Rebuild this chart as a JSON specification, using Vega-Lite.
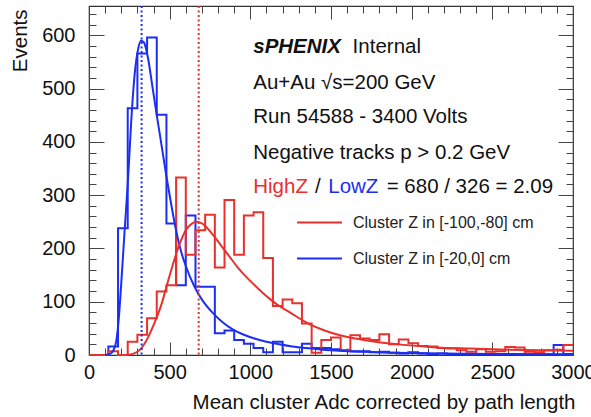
{
  "$schema": "https://vega.github.io/schema/vega-lite/v6.json",
  "width": 484,
  "height": 349,
  "autosize": {"type": "none"},
  "padding": {"left": 89, "top": 6, "right": 18, "bottom": 62},
  "background": "white",
  "config": {
    "font": "Liberation Sans",
    "view": {"stroke": "#333", "strokeWidth": 1.2},
    "axis": {"grid": false, "domain": false, "tickColor": "#444", "tickWidth": 1, "labelColor": "#111", "titleColor": "#111", "labelFont": "Liberation Sans", "titleFont": "Liberation Sans", "titleFontWeight": "normal"}
  },
  "datasets": {
    "hist": [
      {"series": "Cluster Z in [-20,0] cm", "x": 0, "y": 0},
      {"series": "Cluster Z in [-20,0] cm", "x": 60, "y": 0},
      {"series": "Cluster Z in [-20,0] cm", "x": 120, "y": 16},
      {"series": "Cluster Z in [-20,0] cm", "x": 180, "y": 238},
      {"series": "Cluster Z in [-20,0] cm", "x": 240, "y": 463},
      {"series": "Cluster Z in [-20,0] cm", "x": 300, "y": 566},
      {"series": "Cluster Z in [-20,0] cm", "x": 360, "y": 596},
      {"series": "Cluster Z in [-20,0] cm", "x": 420, "y": 451},
      {"series": "Cluster Z in [-20,0] cm", "x": 480, "y": 247},
      {"series": "Cluster Z in [-20,0] cm", "x": 540, "y": 131},
      {"series": "Cluster Z in [-20,0] cm", "x": 600, "y": 262},
      {"series": "Cluster Z in [-20,0] cm", "x": 660, "y": 128},
      {"series": "Cluster Z in [-20,0] cm", "x": 720, "y": 128},
      {"series": "Cluster Z in [-20,0] cm", "x": 780, "y": 41},
      {"series": "Cluster Z in [-20,0] cm", "x": 840, "y": 46},
      {"series": "Cluster Z in [-20,0] cm", "x": 900, "y": 28},
      {"series": "Cluster Z in [-20,0] cm", "x": 960, "y": 21},
      {"series": "Cluster Z in [-20,0] cm", "x": 1020, "y": 13},
      {"series": "Cluster Z in [-20,0] cm", "x": 1080, "y": 5},
      {"series": "Cluster Z in [-20,0] cm", "x": 1140, "y": 25},
      {"series": "Cluster Z in [-20,0] cm", "x": 1200, "y": 5},
      {"series": "Cluster Z in [-20,0] cm", "x": 1260, "y": 5},
      {"series": "Cluster Z in [-20,0] cm", "x": 1320, "y": 21},
      {"series": "Cluster Z in [-20,0] cm", "x": 1380, "y": 13},
      {"series": "Cluster Z in [-20,0] cm", "x": 1440, "y": 13},
      {"series": "Cluster Z in [-20,0] cm", "x": 1500, "y": 11},
      {"series": "Cluster Z in [-20,0] cm", "x": 1560, "y": 9},
      {"series": "Cluster Z in [-20,0] cm", "x": 1620, "y": 7},
      {"series": "Cluster Z in [-20,0] cm", "x": 1680, "y": 7},
      {"series": "Cluster Z in [-20,0] cm", "x": 1740, "y": 5},
      {"series": "Cluster Z in [-20,0] cm", "x": 1800, "y": 6},
      {"series": "Cluster Z in [-20,0] cm", "x": 1860, "y": 4},
      {"series": "Cluster Z in [-20,0] cm", "x": 1920, "y": 3},
      {"series": "Cluster Z in [-20,0] cm", "x": 1980, "y": 5},
      {"series": "Cluster Z in [-20,0] cm", "x": 2040, "y": 3},
      {"series": "Cluster Z in [-20,0] cm", "x": 2100, "y": 2},
      {"series": "Cluster Z in [-20,0] cm", "x": 2160, "y": 3},
      {"series": "Cluster Z in [-20,0] cm", "x": 2220, "y": 2},
      {"series": "Cluster Z in [-20,0] cm", "x": 2280, "y": 2},
      {"series": "Cluster Z in [-20,0] cm", "x": 2340, "y": 1},
      {"series": "Cluster Z in [-20,0] cm", "x": 2400, "y": 2},
      {"series": "Cluster Z in [-20,0] cm", "x": 2460, "y": 1},
      {"series": "Cluster Z in [-20,0] cm", "x": 2520, "y": 1},
      {"series": "Cluster Z in [-20,0] cm", "x": 2580, "y": 2},
      {"series": "Cluster Z in [-20,0] cm", "x": 2640, "y": 1},
      {"series": "Cluster Z in [-20,0] cm", "x": 2700, "y": 1},
      {"series": "Cluster Z in [-20,0] cm", "x": 2760, "y": 1},
      {"series": "Cluster Z in [-20,0] cm", "x": 2820, "y": 1},
      {"series": "Cluster Z in [-20,0] cm", "x": 2880, "y": 19},
      {"series": "Cluster Z in [-20,0] cm", "x": 2940, "y": 2},
      {"series": "Cluster Z in [-20,0] cm", "x": 3000, "y": 2},
      {"series": "Cluster Z in [-100,-80] cm", "x": 0, "y": 0},
      {"series": "Cluster Z in [-100,-80] cm", "x": 60, "y": 0},
      {"series": "Cluster Z in [-100,-80] cm", "x": 120, "y": 7},
      {"series": "Cluster Z in [-100,-80] cm", "x": 180, "y": 0},
      {"series": "Cluster Z in [-100,-80] cm", "x": 240, "y": 25},
      {"series": "Cluster Z in [-100,-80] cm", "x": 300, "y": 38},
      {"series": "Cluster Z in [-100,-80] cm", "x": 360, "y": 69},
      {"series": "Cluster Z in [-100,-80] cm", "x": 420, "y": 119},
      {"series": "Cluster Z in [-100,-80] cm", "x": 480, "y": 131},
      {"series": "Cluster Z in [-100,-80] cm", "x": 540, "y": 333},
      {"series": "Cluster Z in [-100,-80] cm", "x": 600, "y": 188},
      {"series": "Cluster Z in [-100,-80] cm", "x": 660, "y": 234},
      {"series": "Cluster Z in [-100,-80] cm", "x": 720, "y": 263},
      {"series": "Cluster Z in [-100,-80] cm", "x": 780, "y": 164},
      {"series": "Cluster Z in [-100,-80] cm", "x": 840, "y": 291},
      {"series": "Cluster Z in [-100,-80] cm", "x": 900, "y": 188},
      {"series": "Cluster Z in [-100,-80] cm", "x": 960, "y": 262},
      {"series": "Cluster Z in [-100,-80] cm", "x": 1020, "y": 268},
      {"series": "Cluster Z in [-100,-80] cm", "x": 1080, "y": 182},
      {"series": "Cluster Z in [-100,-80] cm", "x": 1140, "y": 92},
      {"series": "Cluster Z in [-100,-80] cm", "x": 1200, "y": 104},
      {"series": "Cluster Z in [-100,-80] cm", "x": 1260, "y": 97},
      {"series": "Cluster Z in [-100,-80] cm", "x": 1320, "y": 59},
      {"series": "Cluster Z in [-100,-80] cm", "x": 1380, "y": 4},
      {"series": "Cluster Z in [-100,-80] cm", "x": 1440, "y": 28},
      {"series": "Cluster Z in [-100,-80] cm", "x": 1500, "y": 33},
      {"series": "Cluster Z in [-100,-80] cm", "x": 1560, "y": 9},
      {"series": "Cluster Z in [-100,-80] cm", "x": 1620, "y": 37},
      {"series": "Cluster Z in [-100,-80] cm", "x": 1680, "y": 31},
      {"series": "Cluster Z in [-100,-80] cm", "x": 1740, "y": 28},
      {"series": "Cluster Z in [-100,-80] cm", "x": 1800, "y": 39},
      {"series": "Cluster Z in [-100,-80] cm", "x": 1860, "y": 20},
      {"series": "Cluster Z in [-100,-80] cm", "x": 1920, "y": 29},
      {"series": "Cluster Z in [-100,-80] cm", "x": 1980, "y": 22},
      {"series": "Cluster Z in [-100,-80] cm", "x": 2040, "y": 17},
      {"series": "Cluster Z in [-100,-80] cm", "x": 2100, "y": 16},
      {"series": "Cluster Z in [-100,-80] cm", "x": 2160, "y": 13},
      {"series": "Cluster Z in [-100,-80] cm", "x": 2220, "y": 12},
      {"series": "Cluster Z in [-100,-80] cm", "x": 2280, "y": 9},
      {"series": "Cluster Z in [-100,-80] cm", "x": 2340, "y": 6},
      {"series": "Cluster Z in [-100,-80] cm", "x": 2400, "y": 11},
      {"series": "Cluster Z in [-100,-80] cm", "x": 2460, "y": 6},
      {"series": "Cluster Z in [-100,-80] cm", "x": 2520, "y": 7},
      {"series": "Cluster Z in [-100,-80] cm", "x": 2580, "y": 15},
      {"series": "Cluster Z in [-100,-80] cm", "x": 2640, "y": 14},
      {"series": "Cluster Z in [-100,-80] cm", "x": 2700, "y": 6},
      {"series": "Cluster Z in [-100,-80] cm", "x": 2760, "y": 5},
      {"series": "Cluster Z in [-100,-80] cm", "x": 2820, "y": 9},
      {"series": "Cluster Z in [-100,-80] cm", "x": 2880, "y": 10},
      {"series": "Cluster Z in [-100,-80] cm", "x": 2940, "y": 19},
      {"series": "Cluster Z in [-100,-80] cm", "x": 3000, "y": 19}
    ],
    "fit": [
      {"series": "Cluster Z in [-20,0] cm", "x": 100, "y": 0},
      {"series": "Cluster Z in [-20,0] cm", "x": 130, "y": 2},
      {"series": "Cluster Z in [-20,0] cm", "x": 150, "y": 8},
      {"series": "Cluster Z in [-20,0] cm", "x": 170, "y": 28},
      {"series": "Cluster Z in [-20,0] cm", "x": 185, "y": 70},
      {"series": "Cluster Z in [-20,0] cm", "x": 200, "y": 135},
      {"series": "Cluster Z in [-20,0] cm", "x": 220, "y": 230},
      {"series": "Cluster Z in [-20,0] cm", "x": 243, "y": 335},
      {"series": "Cluster Z in [-20,0] cm", "x": 262, "y": 440},
      {"series": "Cluster Z in [-20,0] cm", "x": 284, "y": 530},
      {"series": "Cluster Z in [-20,0] cm", "x": 305, "y": 575},
      {"series": "Cluster Z in [-20,0] cm", "x": 322, "y": 590},
      {"series": "Cluster Z in [-20,0] cm", "x": 340, "y": 587},
      {"series": "Cluster Z in [-20,0] cm", "x": 366, "y": 557},
      {"series": "Cluster Z in [-20,0] cm", "x": 390, "y": 510},
      {"series": "Cluster Z in [-20,0] cm", "x": 418, "y": 454},
      {"series": "Cluster Z in [-20,0] cm", "x": 450, "y": 393},
      {"series": "Cluster Z in [-20,0] cm", "x": 480, "y": 335},
      {"series": "Cluster Z in [-20,0] cm", "x": 510, "y": 282},
      {"series": "Cluster Z in [-20,0] cm", "x": 541, "y": 232},
      {"series": "Cluster Z in [-20,0] cm", "x": 570, "y": 195},
      {"series": "Cluster Z in [-20,0] cm", "x": 600, "y": 167},
      {"series": "Cluster Z in [-20,0] cm", "x": 654, "y": 128},
      {"series": "Cluster Z in [-20,0] cm", "x": 700, "y": 104},
      {"series": "Cluster Z in [-20,0] cm", "x": 767, "y": 79},
      {"series": "Cluster Z in [-20,0] cm", "x": 830, "y": 61},
      {"series": "Cluster Z in [-20,0] cm", "x": 891, "y": 48},
      {"series": "Cluster Z in [-20,0] cm", "x": 960, "y": 38},
      {"series": "Cluster Z in [-20,0] cm", "x": 1036, "y": 30},
      {"series": "Cluster Z in [-20,0] cm", "x": 1100, "y": 25},
      {"series": "Cluster Z in [-20,0] cm", "x": 1179, "y": 20},
      {"series": "Cluster Z in [-20,0] cm", "x": 1260, "y": 16},
      {"series": "Cluster Z in [-20,0] cm", "x": 1344, "y": 13},
      {"series": "Cluster Z in [-20,0] cm", "x": 1450, "y": 10},
      {"series": "Cluster Z in [-20,0] cm", "x": 1550, "y": 8},
      {"series": "Cluster Z in [-20,0] cm", "x": 1700, "y": 6},
      {"series": "Cluster Z in [-20,0] cm", "x": 1900, "y": 4},
      {"series": "Cluster Z in [-20,0] cm", "x": 2200, "y": 3},
      {"series": "Cluster Z in [-20,0] cm", "x": 2500, "y": 2},
      {"series": "Cluster Z in [-20,0] cm", "x": 3000, "y": 1.5},
      {"series": "Cluster Z in [-100,-80] cm", "x": 230, "y": 0},
      {"series": "Cluster Z in [-100,-80] cm", "x": 280, "y": 3},
      {"series": "Cluster Z in [-100,-80] cm", "x": 320, "y": 11},
      {"series": "Cluster Z in [-100,-80] cm", "x": 366, "y": 33},
      {"series": "Cluster Z in [-100,-80] cm", "x": 400, "y": 56},
      {"series": "Cluster Z in [-100,-80] cm", "x": 449, "y": 95},
      {"series": "Cluster Z in [-100,-80] cm", "x": 480, "y": 128},
      {"series": "Cluster Z in [-100,-80] cm", "x": 520, "y": 170},
      {"series": "Cluster Z in [-100,-80] cm", "x": 560, "y": 207},
      {"series": "Cluster Z in [-100,-80] cm", "x": 600, "y": 234},
      {"series": "Cluster Z in [-100,-80] cm", "x": 640, "y": 247},
      {"series": "Cluster Z in [-100,-80] cm", "x": 665, "y": 250},
      {"series": "Cluster Z in [-100,-80] cm", "x": 700, "y": 247},
      {"series": "Cluster Z in [-100,-80] cm", "x": 767, "y": 226},
      {"series": "Cluster Z in [-100,-80] cm", "x": 820, "y": 205},
      {"series": "Cluster Z in [-100,-80] cm", "x": 870, "y": 185},
      {"series": "Cluster Z in [-100,-80] cm", "x": 920, "y": 165},
      {"series": "Cluster Z in [-100,-80] cm", "x": 973, "y": 147},
      {"series": "Cluster Z in [-100,-80] cm", "x": 1030, "y": 130},
      {"series": "Cluster Z in [-100,-80] cm", "x": 1076, "y": 117},
      {"series": "Cluster Z in [-100,-80] cm", "x": 1130, "y": 103},
      {"series": "Cluster Z in [-100,-80] cm", "x": 1179, "y": 92},
      {"series": "Cluster Z in [-100,-80] cm", "x": 1250, "y": 79},
      {"series": "Cluster Z in [-100,-80] cm", "x": 1360, "y": 59},
      {"series": "Cluster Z in [-100,-80] cm", "x": 1460, "y": 46},
      {"series": "Cluster Z in [-100,-80] cm", "x": 1567, "y": 36},
      {"series": "Cluster Z in [-100,-80] cm", "x": 1670, "y": 30},
      {"series": "Cluster Z in [-100,-80] cm", "x": 1774, "y": 25},
      {"series": "Cluster Z in [-100,-80] cm", "x": 1950, "y": 19},
      {"series": "Cluster Z in [-100,-80] cm", "x": 2158, "y": 14},
      {"series": "Cluster Z in [-100,-80] cm", "x": 2364, "y": 12},
      {"series": "Cluster Z in [-100,-80] cm", "x": 2600, "y": 10},
      {"series": "Cluster Z in [-100,-80] cm", "x": 2800, "y": 9},
      {"series": "Cluster Z in [-100,-80] cm", "x": 3000, "y": 8}
    ],
    "means": [
      {"series": "Cluster Z in [-100,-80] cm", "x": 680},
      {"series": "Cluster Z in [-20,0] cm", "x": 326}
    ],
    "one": [{}]
  },
  "layer": [
    {
      "data": {"name": "hist"},
      "mark": {"type": "line", "interpolate": "step-after", "strokeWidth": 2},
      "encoding": {
        "x": {"field": "x", "type": "quantitative", "scale": {"domain": [0, 3000], "nice": false, "zero": false},
          "axis": {"orient": "bottom", "values": [0, 500, 1000, 1500, 2000, 2500, 3000], "format": "d", "labelFontSize": 20, "labelPadding": 20, "tickSize": -13, "labelFlush": false, "labelOverlap": false,
            "title": "Mean cluster Adc corrected by path length", "titleFontSize": 20.5, "titleAnchor": "end", "titleAlign": "right", "titleBaseline": "middle", "titleX": 486, "titleY": 47}},
        "y": {"field": "y", "type": "quantitative", "scale": {"domain": [0, 655], "nice": false},
          "axis": {"orient": "left", "values": [0, 100, 200, 300, 400, 500, 600], "format": "d", "labelFontSize": 20, "labelPadding": 29, "tickSize": -15, "labelFlush": false, "labelOverlap": false,
            "title": "Events", "titleFontSize": 20.5, "titleAngle": -90, "titleAlign": "right", "titleBaseline": "middle", "titleX": -69, "titleY": 3}},
        "color": {"field": "series", "type": "nominal",
          "scale": {"domain": ["Cluster Z in [-100,-80] cm", "Cluster Z in [-20,0] cm"], "range": ["#e8302c", "#1c2ef2"]},
          "legend": {"orient": "none", "legendX": 222, "legendY": 208, "title": null, "symbolType": "M-3,0H3", "symbolSize": 225, "symbolStrokeWidth": 2, "symbolFillColor": "transparent",
            "labelFontSize": 16, "labelColor": "#222", "labelOffset": 25, "rowPadding": 19, "padding": 0, "offset": 0, "labelLimit": 300}}
      }
    },
    {
      "data": {"name": "fit"},
      "mark": {"type": "line", "interpolate": "monotone", "strokeWidth": 2},
      "encoding": {
        "x": {"field": "x", "type": "quantitative", "axis": {"orient": "bottom", "values": [100, 200, 300, 400, 600, 700, 800, 900, 1100, 1200, 1300, 1400, 1600, 1700, 1800, 1900, 2100, 2200, 2300, 2400, 2600, 2700, 2800, 2900], "labels": false, "tickSize": -7, "title": null}},
        "y": {"field": "y", "type": "quantitative", "axis": {"orient": "left", "values": [20, 40, 60, 80, 120, 140, 160, 180, 220, 240, 260, 280, 320, 340, 360, 380, 420, 440, 460, 480, 520, 540, 560, 580, 620, 640], "labels": false, "tickSize": -7, "title": null}},
        "color": {"field": "series", "type": "nominal"}
      }
    },
    {
      "data": {"name": "means"},
      "mark": {"type": "rule", "strokeWidth": 2, "strokeDash": [2, 2.5]},
      "encoding": {
        "x": {"field": "x", "type": "quantitative", "axis": null},
        "color": {"field": "series", "type": "nominal"}
      }
    },
    {
      "data": {"name": "one"},
      "mark": {"type": "text", "align": "left", "baseline": "middle", "fontSize": 20.5, "color": "#111", "text": "Au+Au \u221As=200 GeV"},
      "encoding": {
        "x": {"datum": 1018, "type": "quantitative", "axis": {"orient": "top", "values": [0, 500, 1000, 1500, 2000, 2500, 3000], "labels": false, "tickSize": -13, "title": null}},
        "y": {"datum": 510, "type": "quantitative", "axis": {"orient": "right", "values": [0, 100, 200, 300, 400, 500, 600], "labels": false, "tickSize": -15, "title": null}}
      }
    },
    {
      "data": {"name": "one"},
      "mark": {"type": "text", "align": "left", "baseline": "middle", "fontSize": 20.5, "color": "#111", "text": "Run 54588 - 3400 Volts"},
      "encoding": {
        "x": {"datum": 1018, "type": "quantitative", "axis": {"orient": "top", "values": [100, 200, 300, 400, 600, 700, 800, 900, 1100, 1200, 1300, 1400, 1600, 1700, 1800, 1900, 2100, 2200, 2300, 2400, 2600, 2700, 2800, 2900], "labels": false, "tickSize": -7, "title": null}},
        "y": {"datum": 447, "type": "quantitative", "axis": {"orient": "right", "values": [20, 40, 60, 80, 120, 140, 160, 180, 220, 240, 260, 280, 320, 340, 360, 380, 420, 440, 460, 480, 520, 540, 560, 580, 620, 640], "labels": false, "tickSize": -7, "title": null}}
      }
    },
    {
      "data": {"name": "one"},
      "mark": {"type": "text", "align": "left", "baseline": "middle", "fontSize": 20.5, "color": "#111", "text": "Negative tracks p > 0.2 GeV"},
      "encoding": {"x": {"datum": 1018, "type": "quantitative", "axis": null}, "y": {"datum": 380, "type": "quantitative", "axis": null}}
    },
    {
      "data": {"name": "one"},
      "mark": {"type": "text", "align": "left", "baseline": "middle", "fontSize": 20.5, "fontWeight": "bold", "fontStyle": "italic", "color": "#111", "text": "sPHENIX"},
      "encoding": {"x": {"datum": 1018, "type": "quantitative", "axis": null}, "y": {"datum": 578, "type": "quantitative", "axis": null}}
    },
    {
      "data": {"name": "one"},
      "mark": {"type": "text", "align": "left", "baseline": "middle", "fontSize": 20.5, "color": "#111", "text": "Internal"},
      "encoding": {"x": {"datum": 1634, "type": "quantitative", "axis": null}, "y": {"datum": 578, "type": "quantitative", "axis": null}}
    },
    {
      "data": {"name": "one"},
      "mark": {"type": "text", "align": "left", "baseline": "middle", "fontSize": 20.5, "color": "#e8302c", "text": "HighZ"},
      "encoding": {"x": {"datum": 1018, "type": "quantitative", "axis": null}, "y": {"datum": 316, "type": "quantitative", "axis": null}}
    },
    {
      "data": {"name": "one"},
      "mark": {"type": "text", "align": "left", "baseline": "middle", "fontSize": 20.5, "color": "#111", "text": "/"},
      "encoding": {"x": {"datum": 1401, "type": "quantitative", "axis": null}, "y": {"datum": 316, "type": "quantitative", "axis": null}}
    },
    {
      "data": {"name": "one"},
      "mark": {"type": "text", "align": "left", "baseline": "middle", "fontSize": 20.5, "color": "#1c2ef2", "text": "LowZ"},
      "encoding": {"x": {"datum": 1483, "type": "quantitative", "axis": null}, "y": {"datum": 316, "type": "quantitative", "axis": null}}
    },
    {
      "data": {"name": "one"},
      "mark": {"type": "text", "align": "left", "baseline": "middle", "fontSize": 20.5, "color": "#111", "text": "= 680 / 326 = 2.09"},
      "encoding": {"x": {"datum": 1845, "type": "quantitative", "axis": null}, "y": {"datum": 316, "type": "quantitative", "axis": null}}
    }
  ],
  "resolve": {"axis": {"x": "independent", "y": "independent"}}
}
